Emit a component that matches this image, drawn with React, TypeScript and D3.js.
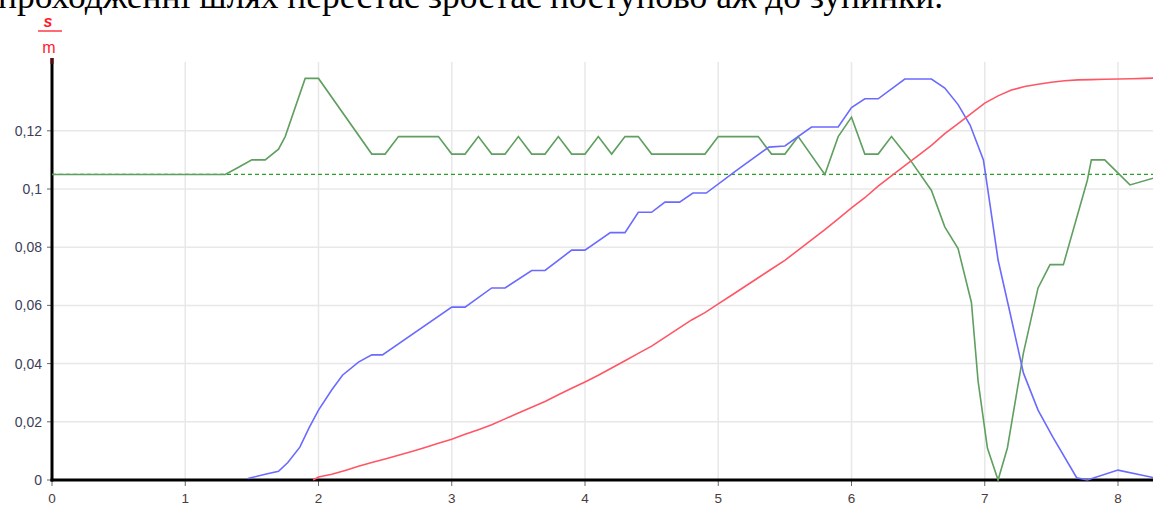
import React from "react";
import * as d3 from "d3";

const xTicks = [0, 1, 2, 3, 4, 5, 6, 7, 8];
const yTicks = [0, 0.02, 0.04, 0.06, 0.08, 0.1, 0.12];
const yTickLabels = ["0", "0,02", "0,04", "0,06", "0,08", "0,1", "0,12"];
const refLevel = 0.105;

const greenX = [0, 1.3, 1.4, 1.5, 1.6, 1.7, 1.75, 1.9, 2.0, 2.4, 2.5, 2.6, 2.9, 3.0, 3.1, 3.2, 3.3, 3.4, 3.5, 3.6, 3.7, 3.8, 3.9, 4.0, 4.1, 4.2, 4.3, 4.4, 4.5, 4.9, 5.0, 5.3, 5.4, 5.5, 5.6, 5.8, 5.9, 6.0, 6.1, 6.2, 6.3, 6.44, 6.6, 6.7, 6.8, 6.9, 6.95, 7.02, 7.1, 7.17, 7.29, 7.4, 7.49, 7.59, 7.77, 7.8, 7.9, 8.09, 8.27];
const greenY = [0.105, 0.105, 0.1075, 0.11, 0.11, 0.1137, 0.118, 0.138, 0.138, 0.112, 0.112, 0.118, 0.118, 0.112, 0.112, 0.118, 0.112, 0.112, 0.118, 0.112, 0.112, 0.118, 0.112, 0.112, 0.118, 0.112, 0.118, 0.118, 0.112, 0.112, 0.118, 0.118, 0.112, 0.112, 0.118, 0.105, 0.118, 0.1247, 0.112, 0.112, 0.118, 0.11, 0.0995, 0.087, 0.0795, 0.061, 0.034, 0.011, 0.0, 0.011, 0.0436, 0.066, 0.074, 0.074, 0.103, 0.11, 0.11, 0.1014, 0.1038];

const blueX = [1.47, 1.6, 1.7, 1.77, 1.86, 1.93, 2.0, 2.1, 2.18, 2.3, 2.4, 2.48, 3.0, 3.1, 3.3, 3.4, 3.6, 3.7, 3.9, 4.0, 4.19, 4.3, 4.4, 4.5, 4.6, 4.71, 4.81, 4.91, 5.14, 5.38, 5.5, 5.7, 5.9, 6.0, 6.1, 6.2, 6.4, 6.6, 6.7, 6.8, 6.89, 6.99, 7.02, 7.1, 7.19, 7.29, 7.4, 7.51, 7.69, 7.77, 8.0, 8.27];
const blueY = [0.0005, 0.002, 0.003, 0.006, 0.0113, 0.018, 0.024, 0.031, 0.036, 0.0405, 0.043, 0.043, 0.0594, 0.0594, 0.066, 0.066, 0.072, 0.072, 0.079, 0.079, 0.085, 0.085, 0.092, 0.092, 0.0955, 0.0955, 0.0986, 0.0986, 0.1065, 0.1144, 0.1148, 0.1213, 0.1213, 0.128, 0.131, 0.131, 0.1378, 0.1378, 0.1347, 0.129, 0.122, 0.11, 0.1007, 0.0756, 0.0574, 0.0368, 0.024, 0.0148, 0.0008, 0.0, 0.0034, 0.0008];

const redX = [1.96, 2.0, 2.1, 2.2, 2.3, 2.4, 2.5, 2.6, 2.7, 2.8, 2.9, 3.0, 3.1, 3.2, 3.3, 3.4, 3.5, 3.6, 3.7, 3.8, 3.9, 4.0, 4.1, 4.2, 4.3, 4.4, 4.5, 4.6, 4.7, 4.8, 4.9, 5.0, 5.1, 5.2, 5.3, 5.4, 5.5, 5.6, 5.7, 5.8, 5.9, 6.0, 6.1, 6.2, 6.3, 6.4, 6.5, 6.6, 6.7, 6.8, 6.9, 7.0, 7.1, 7.2, 7.3, 7.4, 7.5, 7.6, 7.7, 7.8, 7.9, 8.0, 8.1, 8.2, 8.27];
const redY = [0.0, 0.001, 0.002, 0.0033, 0.0047, 0.006, 0.0072, 0.0085, 0.0098, 0.0112, 0.0126, 0.014, 0.0157, 0.0173, 0.019, 0.021, 0.023, 0.025, 0.027, 0.0293, 0.0315, 0.0337, 0.036, 0.0385, 0.041, 0.0435, 0.046, 0.049, 0.052, 0.055, 0.0575, 0.0605, 0.0635, 0.0665, 0.0695, 0.0725, 0.0755, 0.079, 0.0825, 0.086, 0.0897, 0.0935, 0.097, 0.101, 0.1045, 0.108, 0.1115, 0.115, 0.119, 0.1225, 0.126, 0.1295, 0.132, 0.134, 0.1352, 0.136, 0.1367, 0.1372, 0.1375, 0.1376, 0.1377, 0.1378, 0.1379, 0.138, 0.1381];

const headerText = "проходженні шлях перестає зростає поступово аж до зупинки.";

const W = 1153;
const H = 505;

export default function App() {
  const x = d3.scaleLinear().domain([0, 8]).range([52, 1118]);
  const y = d3.scaleLinear().domain([0, 0.12]).range([480, 130.8]);
  const line = d3
    .line<[number, number]>()
    .x((d) => x(d[0]))
    .y((d) => y(d[1]));
  const zip = (a: number[], b: number[]) => a.map((v, i) => [v, b[i]] as [number, number]);

  const x0 = x(0);
  const y0 = y(0);
  const sans = "'Liberation Sans', Arial, sans-serif";

  return (
    <svg
      width={W}
      height={H}
      style={{ position: "absolute", left: 0, top: 0, background: "#fff" }}
    >
      <rect x={0} y={0} width={W} height={H} fill="#fff" />
      <text
        x={-2}
        y={8}
        fontFamily="'Liberation Serif', 'Times New Roman', serif"
        fontSize={35.5}
        fill="#000"
      >
        {headerText}
      </text>

      {/* grid */}
      {yTicks.slice(1).map((t) => (
        <line key={"gy" + t} x1={x0} x2={W} y1={y(t)} y2={y(t)} stroke="#e8e8e8" strokeWidth={1.5} />
      ))}
      {xTicks.slice(1).map((t) => (
        <line key={"gx" + t} x1={x(t)} x2={x(t)} y1={62} y2={y0} stroke="#e8e8e8" strokeWidth={1.5} />
      ))}

      {/* ticks */}
      {yTicks.map((t, i) => (
        <g key={"ty" + t}>
          <line x1={x0 - 5} x2={x0} y1={y(t)} y2={y(t)} stroke="#666" strokeWidth={1} />
          <text x={x0 - 10} y={y(t) + 5} textAnchor="end" fontFamily={sans} fontSize={14} fill="#3e3e58">
            {yTickLabels[i]}
          </text>
        </g>
      ))}
      {xTicks.map((t) => (
        <g key={"tx" + t}>
          <line x1={x(t)} x2={x(t)} y1={y0} y2={y0 + 6} stroke="#666" strokeWidth={1} />
          <text x={x(t)} y={y0 + 22.5} textAnchor="middle" fontFamily={sans} fontSize={13.5} fill="#4a3c3c">
            {t}
          </text>
        </g>
      ))}

      {/* axes */}
      <line x1={x0} x2={x0} y1={58} y2={y0 + 1.5} stroke="#000" strokeWidth={3} />
      <line x1={x0} x2={x0} y1={58} y2={64} stroke="#5a0a0a" strokeWidth={3} />
      <line x1={x0 - 1.5} x2={W} y1={y0} y2={y0} stroke="#000" strokeWidth={3} />

      {/* reference dashed */}
      <line
        x1={x0}
        x2={W}
        y1={y(refLevel)}
        y2={y(refLevel)}
        stroke="#2aa02a"
        strokeWidth={1.3}
        strokeDasharray="4 3"
      />

      {/* series */}
      <path d={line(zip(greenX, greenY)) || ""} fill="none" stroke="#5f9f5f" strokeWidth={1.6} />
      <path d={line(zip(blueX, blueY)) || ""} fill="none" stroke="#6a6aff" strokeWidth={1.6} />
      <path d={line(zip(redX, redY)) || ""} fill="none" stroke="#ff5666" strokeWidth={1.6} />

      {/* unit label */}
      <text x={48} y={27} textAnchor="middle" fontFamily={sans} fontSize={16} fontStyle="italic" fontWeight="bold" fill="#ff1a2a">
        s
      </text>
      <line x1={38} x2={62} y1={31} y2={31} stroke="#ff1a2a" strokeWidth={1.3} />
      <text x={49} y={53} textAnchor="middle" fontFamily={sans} fontSize={16} fill="#ff1a2a">
        m
      </text>
    </svg>
  );
}
